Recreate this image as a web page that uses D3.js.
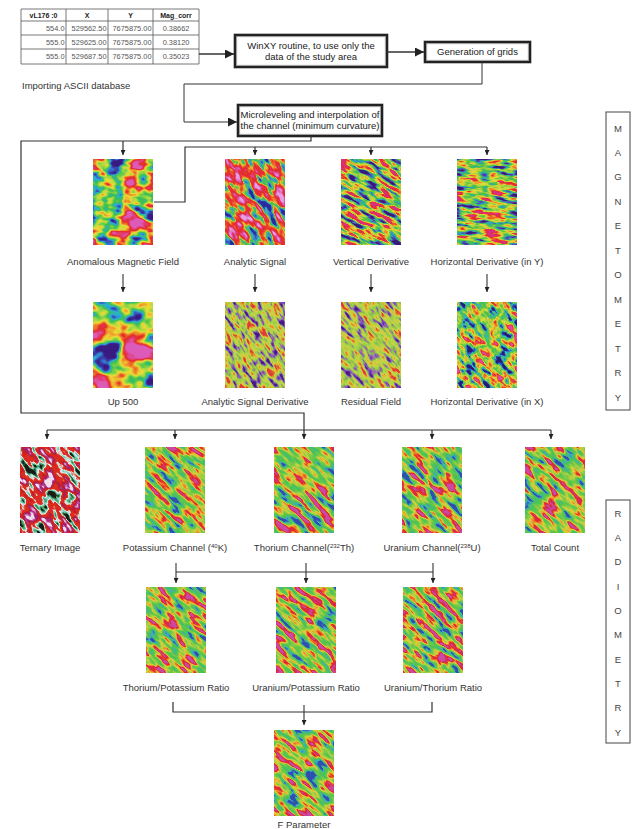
<!DOCTYPE html>
<html>
<head>
<meta charset="utf-8">
<title>Magnetometry and radiometry processing flowchart</title>
<script src="https://d3js.org/d3.v7.min.js"></script>
<style>
	body { margin: 0; background: #fff; }
	svg text { font-family: "Liberation Sans", Arial, sans-serif; fill: #333; }
</style>
</head>
<body>
<svg width="635" height="829"></svg>

<script type="text/javascript">
// ---- data ----
const tableHeader = ["vL176 :0", "X", "Y", "Mag_corr"];
const lineNo  = [554.0, 555.0, 555.0];
const xCoord  = [529562.50, 529625.00, 529687.50];
const yCoord  = [7675875.00, 7675875.00, 7675875.00];
const magCorr = [0.38662, 0.38120, 0.35023];

const importLabel = "Importing ASCII database";
const processSteps = [
	["WinXY routine, to use only the", "data of the study area"],
	["Generation of grids"],
	["Microleveling and interpolation of", "the channel (minimum curvature)"]
];
const magRow1 = ["Anomalous Magnetic Field", "Analytic Signal", "Vertical Derivative", "Horizontal Derivative (in Y)"];
const magRow2 = ["Up 500", "Analytic Signal Derivative", "Residual Field", "Horizontal Derivative (in X)"];
// [text, superscript, tail]
const radRow = [
	["Ternary Image", "", ""],
	["Potassium Channel (", "40", "K)"],
	["Thorium Channel(", "232", "Th)"],
	["Uranium Channel(", "238", "U)"],
	["Total Count", "", ""]
];
const ratioRow = ["Thorium/Potassium Ratio", "Uranium/Potassium Ratio", "Uranium/Thorium Ratio"];
const finalRow = ["F Parameter"];
const sideLabels = ["MAGNETOMETRY", "RADIOMETRY"];

// ---- layout ----
const svg = d3.select("svg");
const TW = 60, TH = 86;

const xMag = d3.scaleOrdinal().domain(d3.range(4)).range([123, 255, 371, 487]);
const xRad = d3.scaleOrdinal().domain(d3.range(5)).range([50, 175, 304, 432, 555]);
const xRatio = d3.scaleOrdinal().domain(d3.range(3)).range([176, 306, 433]);
const xFinal = d3.scaleOrdinal().domain([0]).range([304]);
const rowTop = d3.scaleOrdinal().domain(["mag1", "mag2", "rad", "ratio", "final"]).range([159, 302, 447, 587, 730]);
const rowLabel = d3.scaleOrdinal().domain(["mag1", "mag2", "rad", "ratio", "final"]).range([265, 405, 551, 691, 828]);

// texture palettes for the map thumbnails (style only)
const palMag  = ["#3a1a80", "#3a4ab8", "#2ab0d8", "#3cc050", "#9ad844", "#eedc36", "#f08a2a", "#e42a2a", "#e23a6a", "#dc5ab8"];
const palAS   = ["#2a2aa0", "#3a80d8", "#3cbca0", "#48c048", "#e0c838", "#ee5a2a", "#e42a2a", "#e2304a", "#dc5ab8", "#e8a0e0"];
const palDer  = ["#3a1a78", "#5a3aa8", "#2aa8c0", "#48c048", "#94d044", "#e0dc38", "#f0922a", "#e42a2a", "#da3080"];
const palRes  = ["#4a1a88", "#7a4ac0", "#a070a8", "#8cc448", "#a8d448", "#c8d448", "#dcc438", "#e08a2a", "#e03a3a"];
const palHX   = ["#2a1a70", "#2a4ac0", "#3abcbc", "#48c048", "#94d044", "#e0dc38", "#f0862a", "#e42a2a", "#dc4aa0"];
const palRad  = ["#3050b0", "#40b0c0", "#48c060", "#52c650", "#72c848", "#a2d044", "#dcd038", "#f0862a", "#e42a2a", "#d02a60", "#cc4aa4"];
const palTern = ["#1a1a1a", "#40a060", "#80d0c0", "#e8f0f0", "#d83020", "#e02a20", "#c82020", "#a02060", "#c04aa0", "#f0e0f0"];

const texture = {
	"Anomalous Magnetic Field":     {pal: palMag, freq: "0.045 0.075", rot: 8,  seed: 3,  k: 2.3},
	"Analytic Signal":              {pal: palAS,  freq: "0.05 0.12",   rot: 52, seed: 7,  k: 2.3},
	"Vertical Derivative":          {pal: palDer, freq: "0.06 0.2",    rot: 30, seed: 11, k: 2.4},
	"Horizontal Derivative (in Y)": {pal: palDer, freq: "0.05 0.22",   rot: 6,  seed: 13, k: 2.4},
	"Up 500":                       {pal: palMag, freq: "0.035 0.045", rot: 0,  seed: 5,  k: 2.2},
	"Analytic Signal Derivative":   {pal: palRes, freq: "0.08 0.25",   rot: 58, seed: 17, k: 2.3},
	"Residual Field":               {pal: palRes, freq: "0.07 0.2",    rot: 52, seed: 19, k: 2.3},
	"Horizontal Derivative (in X)": {pal: palHX,  freq: "0.08 0.16",   rot: 45, seed: 23, k: 2.3},
	"Ternary Image":                {pal: palTern,freq: "0.06 0.14",   rot: 50, seed: 29, k: 2.2},
	"Potassium Channel (":          {pal: palRad, freq: "0.05 0.17",   rot: 42, seed: 31, k: 2.2},
	"Thorium Channel(":             {pal: palRad, freq: "0.045 0.15",  rot: 40, seed: 37, k: 2.2},
	"Uranium Channel(":             {pal: palRad, freq: "0.05 0.17",   rot: 44, seed: 41, k: 2.2},
	"Total Count":                  {pal: palRad, freq: "0.05 0.16",   rot: 42, seed: 43, k: 2.2},
	"Thorium/Potassium Ratio":      {pal: palRad, freq: "0.05 0.16",   rot: 40, seed: 47, k: 2.2},
	"Uranium/Potassium Ratio":      {pal: palRad, freq: "0.05 0.17",   rot: 42, seed: 53, k: 2.2},
	"Uranium/Thorium Ratio":        {pal: palRad, freq: "0.055 0.17",  rot: 44, seed: 59, k: 2.2},
	"F Parameter":                  {pal: palRad, freq: "0.05 0.16",   rot: 42, seed: 61, k: 2.2}
};

const defs = svg.append("defs");

// arrow heads
function marker(id, w, h) {
	defs.append("marker").attr("id", id)
		.attr("viewBox", "0 0 10 10").attr("refX", 10).attr("refY", 5)
		.attr("markerUnits", "userSpaceOnUse")
		.attr("markerWidth", w).attr("markerHeight", h)
		.attr("orient", "auto")
		.append("path").attr("d", "M0,0L10,5L0,10z").attr("fill", "#222");
}
marker("big", 11, 9);
marker("small", 6, 5);

const line = d3.line();
function connector(pts, arrow, sw) {
	const p = svg.append("path").attr("d", line(pts))
		.attr("fill", "none").attr("stroke", "#333").attr("stroke-width", sw || 1.2);
	if (arrow) p.attr("marker-end", "url(#" + arrow + ")");
	return p;
}

// ---- table ----
const colEdges = [21, 66, 108, 153, 199];
const rowEdges = [9, 21, 35, 49, 64];
const tbl = svg.append("g");
tbl.selectAll(".hl").data(rowEdges).enter().append("line")
	.attr("x1", colEdges[0]).attr("x2", colEdges[4])
	.attr("y1", d => d).attr("y2", d => d)
	.attr("stroke", "#555").attr("stroke-width", 0.8);
tbl.selectAll(".vl").data(colEdges).enter().append("line")
	.attr("y1", rowEdges[0]).attr("y2", rowEdges[4])
	.attr("x1", d => d).attr("x2", d => d)
	.attr("stroke", "#555").attr("stroke-width", 0.8);
tbl.selectAll(".hd").data(tableHeader).enter().append("text")
	.attr("x", (d, i) => (colEdges[i] + colEdges[i + 1]) / 2)
	.attr("y", (rowEdges[0] + rowEdges[1]) / 2 + 2.5)
	.attr("text-anchor", "middle").attr("font-size", 7).attr("font-weight", "bold")
	.style("fill", "#222").text(d => d);
const rows = lineNo.map((d, i) => [d.toFixed(1), xCoord[i].toFixed(2), yCoord[i].toFixed(2), magCorr[i].toFixed(5)]);
rows.forEach((r, ri) => {
	const cy = (rowEdges[ri + 1] + rowEdges[ri + 2]) / 2 + 2.6;
	r.forEach((v, ci) => {
		const centred = ci === 3;
		tbl.append("text")
			.attr("x", centred ? (colEdges[ci] + colEdges[ci + 1]) / 2 : colEdges[ci + 1] - 1.5)
			.attr("y", cy)
			.attr("text-anchor", centred ? "middle" : "end")
			.attr("font-size", 7.4).style("fill", "#555").text(v);
	});
});

svg.append("text").attr("x", 22).attr("y", 89).attr("font-size", 9.5).text(importLabel);

// ---- process boxes ----
const boxes = [
	{x0: 235, y0: 35, x1: 387, y1: 67},
	{x0: 425, y0: 42, x1: 530, y1: 62},
	{x0: 238, y0: 105, x1: 382, y1: 136}
];
processSteps.forEach((lines, i) => {
	const b = boxes[i];
	svg.append("rect").attr("x", b.x0).attr("y", b.y0)
		.attr("width", b.x1 - b.x0).attr("height", b.y1 - b.y0)
		.attr("fill", "#fff").attr("stroke", "#222").attr("stroke-width", 2.6);
	svg.append("rect").attr("x", b.x0 + 1.8).attr("y", b.y0 + 1.8)
		.attr("width", b.x1 - b.x0 - 3.6).attr("height", b.y1 - b.y0 - 3.6)
		.attr("fill", "none").attr("stroke", "#888").attr("stroke-width", 0.6);
	const cy = (b.y0 + b.y1) / 2;
	lines.forEach((t, li) => {
		svg.append("text").attr("x", (b.x0 + b.x1) / 2)
			.attr("y", cy + 3.3 + (li - (lines.length - 1) / 2) * 11)
			.attr("text-anchor", "middle").attr("font-size", 9.5).style("fill", "#222").text(t);
	});
});

// ---- connectors ----
connector([[199, 54], [234, 54]], "big", 1.6);
connector([[387, 52], [424, 52]], "big", 1.6);
connector([[482, 62], [482, 84], [184, 84], [184, 122], [237, 122]], "big", 1);
connector([[311, 136], [311, 141], [21, 141], [21, 413], [xRad(2), 413], [xRad(2), 439]], "small", 1.2);
connector([[xMag(0), 141], [xMag(0), 155]], "small", 1.2);
connector([[154, 202], [185, 202], [185, 147], [xMag(3), 147]], null, 1.2);
[1, 2, 3].forEach(i => connector([[xMag(i), 147], [xMag(i), 155]], "small", 1.2));
d3.range(4).forEach(i => connector([[xMag(i), 274], [xMag(i), 292]], "small", 1.1));
connector([[xRad(0) - 3, 430], [xRad(4) - 4, 430]], null, 1.2);
[0, 1, 3, 4].forEach(i => {
	const x = xRad(i) - (i === 0 ? 3 : i === 4 ? 4 : 0);
	connector([[x, 430], [x, 439]], "small", 1.2);
});
d3.range(3).forEach(i => connector([[xRatio(i), 563], [xRatio(i), 583]], "small", 1.1));
connector([[xRatio(0), 572], [xRatio(2), 572]], null, 1.2);
connector([[173, 702], [173, 712], [432, 712], [432, 702]], null, 1.2);
connector([[xFinal(0), 705], [xFinal(0), 725]], "small", 1.1);

// ---- map thumbnails ----
let tid = 0;
function thumb(name, cx, top) {
	const t = texture[name];
	const id = "tex" + (tid++);
	const f = defs.append("filter").attr("id", id)
		.attr("color-interpolation-filters", "sRGB");
	f.append("feTurbulence").attr("type", "fractalNoise")
		.attr("baseFrequency", t.freq).attr("numOctaves", 3).attr("seed", t.seed);
	const off = 0.5 * (1 - t.k);
	f.append("feColorMatrix").attr("type", "matrix")
		.attr("values", [t.k, 0, 0, 0, off, t.k, 0, 0, 0, off, t.k, 0, 0, 0, off, 0, 0, 0, 0, 1].join(" "));
	const ct = f.append("feComponentTransfer");
	["r", "g", "b"].forEach((c, i) => {
		ct.append("feFunc" + c.toUpperCase()).attr("type", "table")
			.attr("tableValues", t.pal.map(h => (d3.rgb(h)[c] / 255).toFixed(3)).join(" "));
	});
	defs.append("clipPath").attr("id", "c" + id)
		.append("rect").attr("width", TW).attr("height", TH);
	const g = svg.append("g")
		.attr("transform", "translate(" + (cx - TW / 2) + "," + top + ")")
		.attr("clip-path", "url(#c" + id + ")");
	g.append("g").attr("transform", "translate(" + TW / 2 + "," + TH / 2 + ") rotate(" + t.rot + ")")
		.append("rect").attr("x", -58).attr("y", -58).attr("width", 116).attr("height", 116)
		.attr("fill", "#fff").attr("filter", "url(#" + id + ")");
}

function label(parts, cx, y) {
	const t = svg.append("text").attr("x", cx).attr("y", y)
		.attr("text-anchor", "middle").attr("font-size", 9.5);
	if (typeof parts === "string") { t.text(parts); return; }
	t.append("tspan").text(parts[0]);
	if (parts[1]) {
		t.append("tspan").attr("font-size", 6).attr("dy", -3.5).text(parts[1]);
		t.append("tspan").attr("dy", 3.5).text(parts[2]);
	}
}

magRow1.forEach((d, i) => { thumb(d, xMag(i), rowTop("mag1")); label(d, xMag(i), rowLabel("mag1")); });
magRow2.forEach((d, i) => { thumb(d, xMag(i), rowTop("mag2")); label(d, xMag(i), rowLabel("mag2")); });
radRow.forEach((d, i) => { thumb(d[0], xRad(i), rowTop("rad")); label(d, xRad(i), rowLabel("rad")); });
ratioRow.forEach((d, i) => { thumb(d, xRatio(i), rowTop("ratio")); label(d, xRatio(i), rowLabel("ratio")); });
finalRow.forEach((d, i) => { thumb(d, xFinal(i), rowTop("final")); label(d, xFinal(i), rowLabel("final")); });

// ---- side labels ----
const sideBoxes = [{y0: 112, y1: 410, first: 128, last: 397}, {y0: 500, y1: 743, first: 513, last: 732}];
sideLabels.forEach((word, i) => {
	const b = sideBoxes[i];
	svg.append("rect").attr("x", 606).attr("y", b.y0).attr("width", 24).attr("height", b.y1 - b.y0)
		.attr("fill", "none").attr("stroke", "#444").attr("stroke-width", 1);
	const ys = d3.scalePoint().domain(d3.range(word.length)).range([b.first, b.last]);
	svg.selectAll(null).data(word.split("")).enter().append("text")
		.attr("x", 618).attr("y", (d, j) => ys(j) + 3.5)
		.attr("text-anchor", "middle").attr("font-size", 9.5).style("fill", "#444")
		.text(d => d);
});
</script>
</body>
</html>
